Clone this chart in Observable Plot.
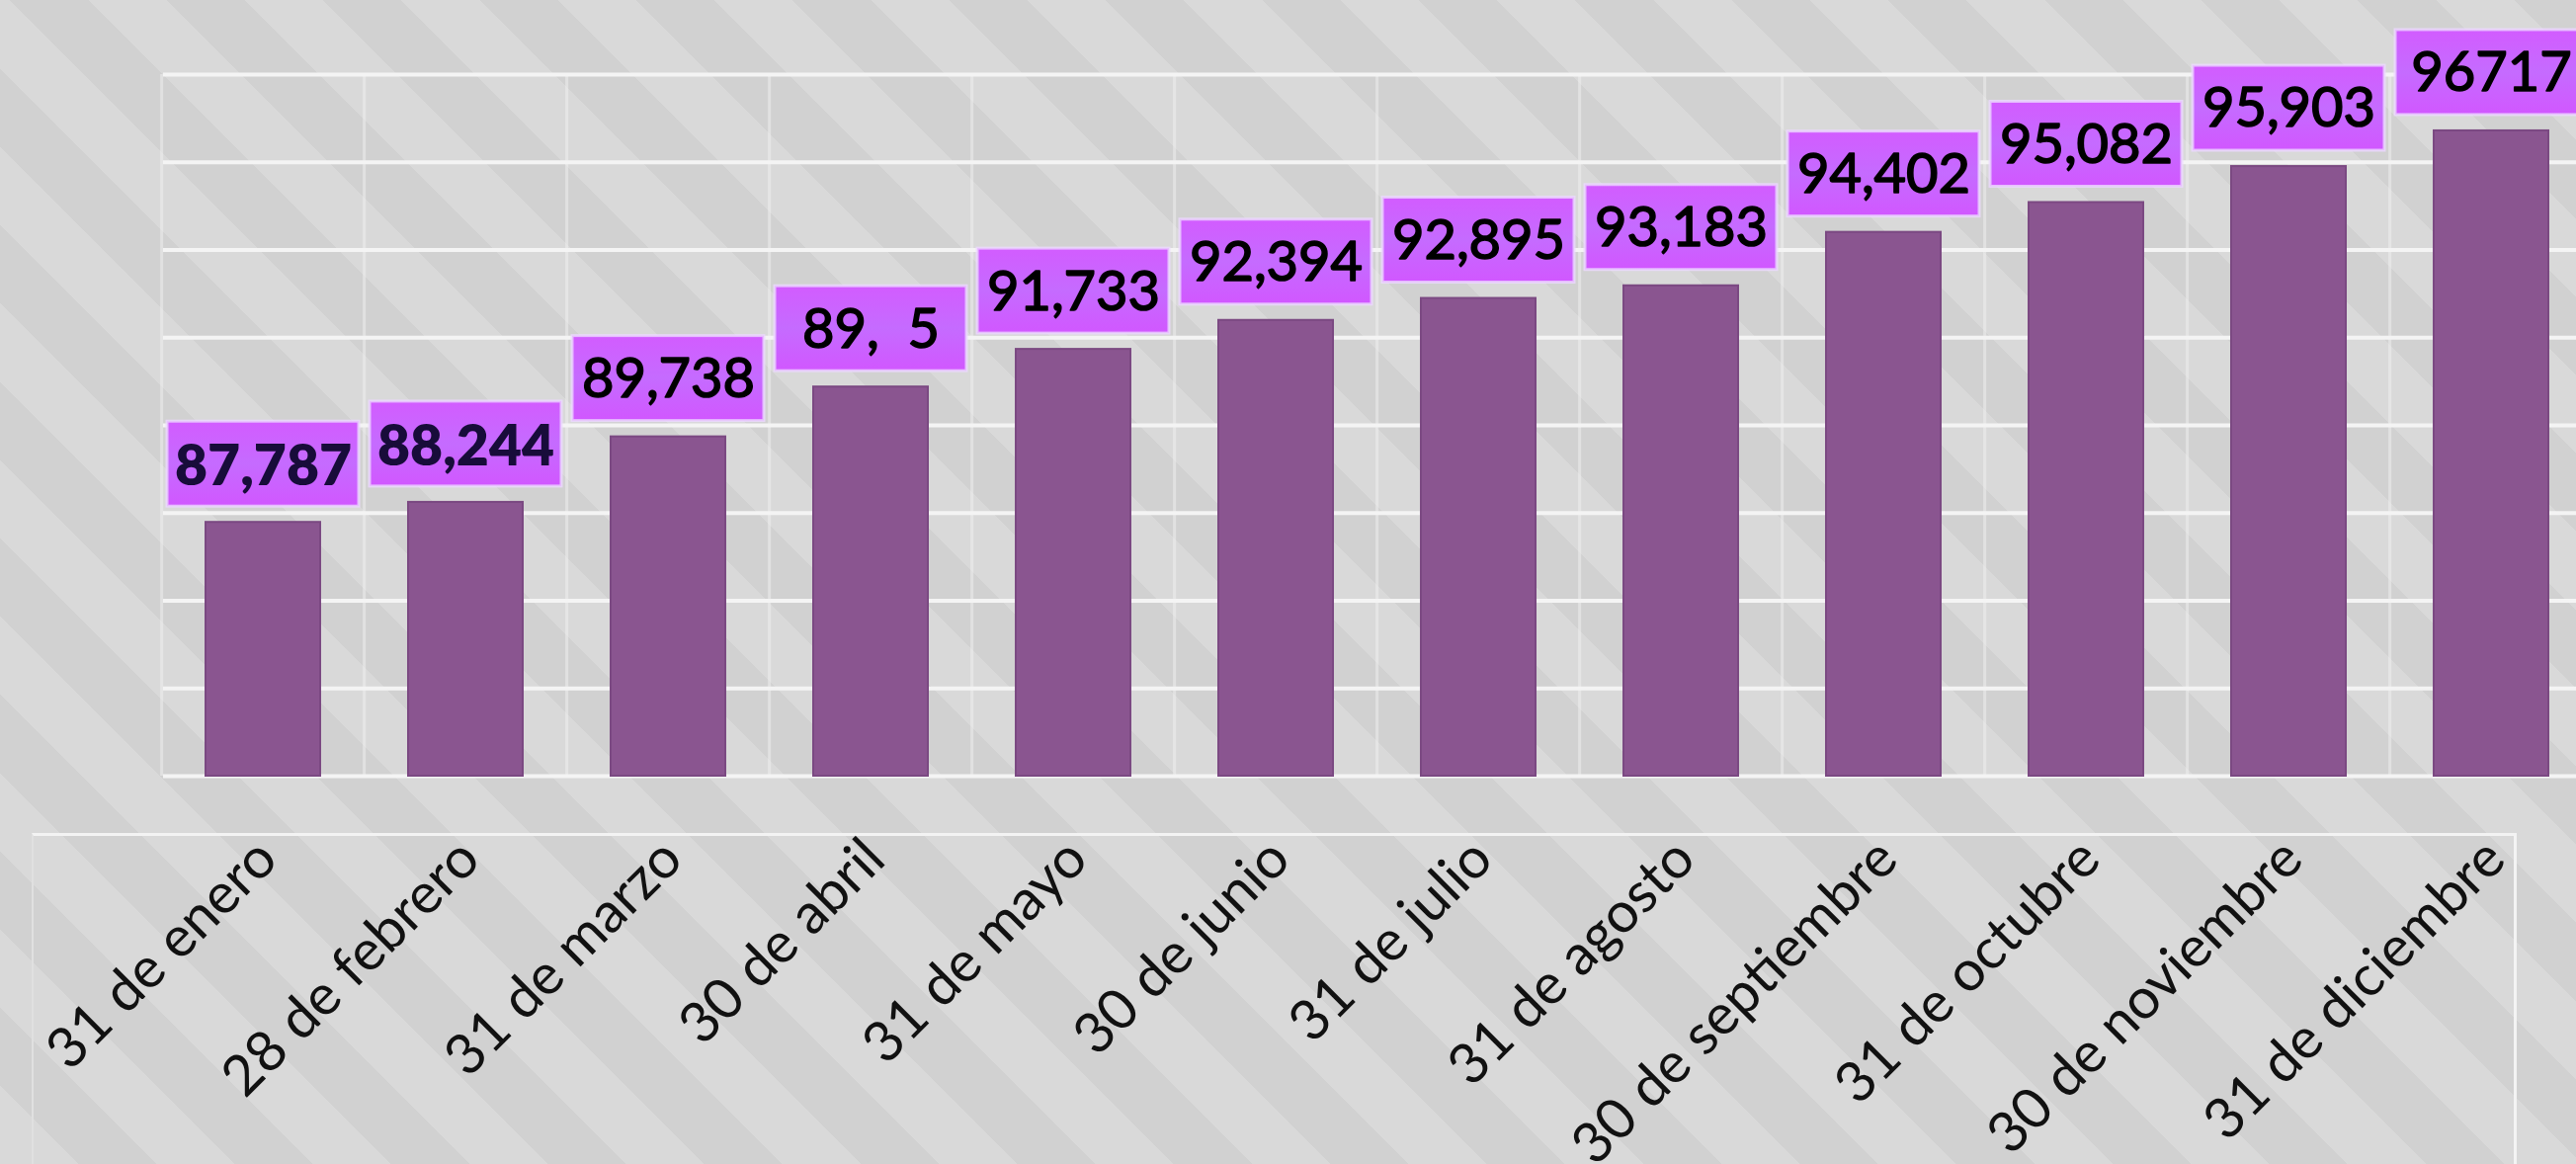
<!DOCTYPE html>
<html>
<head>
<meta charset="utf-8">
<script src="https://cdn.jsdelivr.net/npm/d3@7"></script>
<script src="https://cdn.jsdelivr.net/npm/@observablehq/plot@0.6"></script>
<style>
html, body { margin: 0; padding: 0; overflow: hidden; }
body {
  width: 2607px; height: 1178px; position: relative;
  background: repeating-linear-gradient(45deg, #d9d9d9 0px, #d9d9d9 56px, #d1d1d1 56px, #d1d1d1 112px);
}
#panel {
  position: absolute; left: 32px; top: 843px; width: 2515px; height: 400px;
  border-top: 3px solid #f3f3f3; border-right: 3px solid #f3f3f3; border-left: 2px solid #e0e0e0;
  box-sizing: border-box;
}
#chart { position: absolute; left: 0; top: 0; }
</style>
</head>
<body>
<div id="panel"></div>
<div id="chart"></div>
<script>
// ---- data ----
const months = ["31 de enero", "28 de febrero", "31 de marzo", "30 de abril", "31 de mayo", "30 de junio",
                "31 de julio", "31 de agosto", "30 de septiembre", "31 de octubre", "30 de noviembre", "31 de diciembre"];
const values = [87787, 88244, 89738, 90875, 91733, 92394, 92895, 93183, 94402, 95082, 95903, 96717];
const labels = ["87,787", "88,244", "89,738", "89,  5", "91,733", "92,394", "92,895", "93,183", "94,402", "95,082", "95,903", "96717"];
const boldLabelMonths = ["31 de enero", "28 de febrero"];
const yTicks = [82000, 84000, 86000, 88000, 90000, 92000, 94000, 96000, 98000];
const yMin = 82000, yMax = 98000;

const data = months.map((m, i) => ({month: m, value: values[i], label: labels[i]}));

const W = 2607, H = 1178;
const xRange = [208, 2607];
const step = (xRange[1] - xRange[0]) / (12 - 0.436 + 2 * 0.048);

const chart = Plot.plot({
  width: W, height: H,
  marginLeft: 165, marginRight: 0, marginTop: 75, marginBottom: H - 785,
  style: {background: "transparent", fontFamily: "Lato, 'Open Sans', sans-serif", overflow: "visible"},
  x: {domain: months, range: xRange, paddingInner: 0.436, paddingOuter: 0.048, align: 0, axis: null},
  y: {domain: [yMin, yMax], axis: null},
  marks: [
    Plot.ruleY(yTicks, {stroke: "#f6f6f6", strokeWidth: 4, strokeOpacity: 0.95}),
    Plot.ruleX(months, {x: d => d, y1: yMin, y2: yMax, dx: -step / 2, stroke: "#f4f4f4", strokeWidth: 3, strokeOpacity: 0.45}),
    Plot.barY(data, {x: "month", y1: () => yMin, y2: "value", fill: "#8a5590", stroke: "#7b4982", strokeWidth: 2}),
    Plot.barY(data, {x: "month", y1: "value", y2: "value",
      insetTop: -102, insetBottom: 16, insetLeft: -39, insetRight: -39,
      fill: "url(#lblgrad)", stroke: "#ecd8ff", strokeWidth: 3, strokeOpacity: 0.8}),
    Plot.text(data.filter(d => !boldLabelMonths.includes(d.month)), {x: "month", y: "value", text: "label",
      dy: -58, lineAnchor: "middle", fontSize: 56, fill: "#000", stroke: "#000", strokeWidth: 1.6}),
    Plot.text(data.filter(d => boldLabelMonths.includes(d.month)), {x: "month", y: "value", text: "label",
      dy: -56, lineAnchor: "middle", fontSize: 57, fill: "#180c3a", fontWeight: 800}),
    Plot.text(months, {x: d => d, frameAnchor: "bottom", dy: 74, dx: 4, rotate: -45,
      textAnchor: "end", lineAnchor: "middle", fontSize: 57, fill: "#111"})
  ]
});

const ns = "http://www.w3.org/2000/svg";
const defs = document.createElementNS(ns, "defs");
defs.innerHTML = `<linearGradient id="lblgrad" x1="0" y1="0" x2="0" y2="1">
  <stop offset="0" stop-color="#d25cff"/>
  <stop offset="0.5" stop-color="#c56bff"/>
  <stop offset="1" stop-color="#d157ff"/>
</linearGradient>`;
chart.insertBefore(defs, chart.firstChild);
document.getElementById("chart").appendChild(chart);
</script>
</body>
</html>
